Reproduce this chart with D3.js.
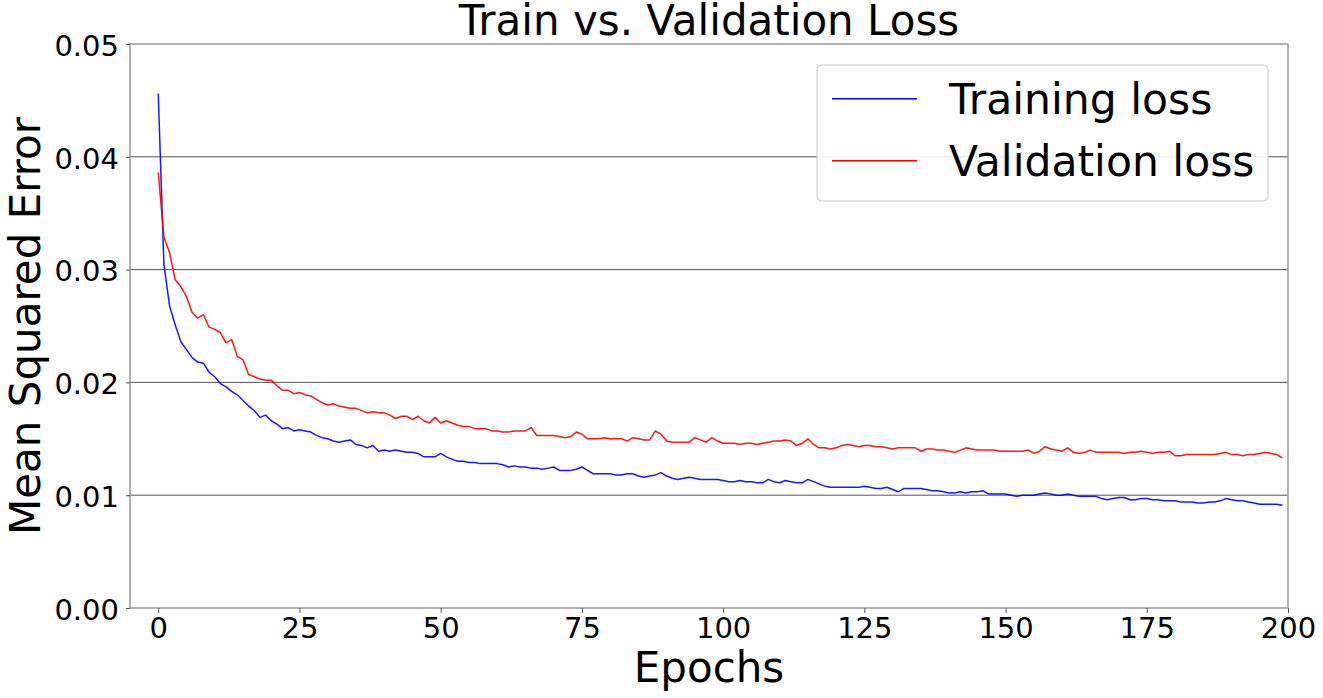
<!DOCTYPE html>
<html>
<head>
<meta charset="utf-8">
<script src="https://cdn.jsdelivr.net/npm/d3@7"></script>
<style>
  html, body { margin: 0; padding: 0; background: #fff; }
  svg { display: block; }
  text { font-family: "DejaVu Sans", sans-serif; fill: #000; }
</style>
</head>
<body>
<svg id="chart" width="1323" height="698"></svg>
<script>
const trainingLoss = [
0.0456,0.0305,0.0268,0.0251,0.0236,0.0229,0.0222,0.0218,0.0217,0.0209,
0.0205,0.0199,0.0196,0.0192,0.0189,0.0184,0.0179,0.0175,0.0169,0.0171,
0.0166,0.0163,0.0159,0.0160,0.0157,0.0158,0.0157,0.0156,0.0153,0.0151,
0.0150,0.0148,0.0147,0.0148,0.0149,0.0145,0.0144,0.0142,0.0144,0.0139,
0.0140,0.0139,0.0140,0.0139,0.0138,0.0138,0.0137,0.0134,0.0134,0.0134,
0.0137,0.0134,0.0132,0.0130,0.0130,0.0129,0.0129,0.0128,0.0128,0.0128,
0.0128,0.0127,0.0125,0.0126,0.0125,0.0125,0.0124,0.0124,0.0123,0.0124,
0.0125,0.0122,0.0122,0.0122,0.0123,0.0125,0.0122,0.0119,0.0119,0.0119,
0.0119,0.0118,0.0118,0.0119,0.0119,0.0117,0.0116,0.0117,0.0118,0.0120,
0.0117,0.0115,0.0114,0.0115,0.0116,0.0115,0.0114,0.0114,0.0114,0.0114,
0.0113,0.0112,0.0112,0.0113,0.0112,0.0112,0.0111,0.0111,0.0114,0.0112,
0.0111,0.0113,0.0112,0.0111,0.0111,0.0114,0.0112,0.0110,0.0108,0.0107,
0.0107,0.0107,0.0107,0.0107,0.0107,0.0108,0.0107,0.0106,0.0106,0.0107,
0.0105,0.0103,0.0106,0.0106,0.0106,0.0106,0.0105,0.0104,0.0104,0.0103,
0.0102,0.0102,0.0103,0.0102,0.0103,0.0103,0.0104,0.0101,0.0101,0.0101,
0.0101,0.0100,0.0099,0.0100,0.0100,0.0100,0.0101,0.0102,0.0101,0.0100,
0.0100,0.0101,0.0100,0.0099,0.0099,0.0099,0.0099,0.0097,0.0096,0.0097,
0.0098,0.0098,0.0096,0.0096,0.0097,0.0097,0.0096,0.0096,0.0095,0.0095,
0.0095,0.0094,0.0094,0.0094,0.0093,0.0093,0.0094,0.0094,0.0095,0.0097,
0.0096,0.0095,0.0095,0.0094,0.0093,0.0092,0.0092,0.0092,0.0092,0.0091
];
const validationLoss = [
0.0386,0.0329,0.0315,0.0291,0.0285,0.0276,0.0262,0.0257,0.0260,0.0249,
0.0247,0.0244,0.0235,0.0238,0.0223,0.0220,0.0207,0.0205,0.0203,0.0202,
0.0202,0.0197,0.0193,0.0193,0.0190,0.0191,0.0189,0.0188,0.0185,0.0182,
0.0180,0.0181,0.0179,0.0178,0.0177,0.0177,0.0175,0.0173,0.0174,0.0173,
0.0173,0.0171,0.0168,0.0170,0.0170,0.0167,0.0170,0.0166,0.0164,0.0169,
0.0164,0.0166,0.0164,0.0162,0.0161,0.0161,0.0159,0.0159,0.0159,0.0157,
0.0157,0.0156,0.0156,0.0157,0.0157,0.0157,0.0160,0.0153,0.0153,0.0153,
0.0153,0.0152,0.0151,0.0152,0.0156,0.0154,0.0150,0.0150,0.0150,0.0151,
0.0150,0.0150,0.0150,0.0148,0.0151,0.0150,0.0149,0.0149,0.0157,0.0154,
0.0148,0.0147,0.0147,0.0147,0.0147,0.0151,0.0149,0.0147,0.0151,0.0148,
0.0146,0.0146,0.0146,0.0145,0.0146,0.0146,0.0145,0.0146,0.0147,0.0148,
0.0148,0.0149,0.0148,0.0144,0.0146,0.0150,0.0145,0.0142,0.0142,0.0141,
0.0142,0.0144,0.0145,0.0144,0.0143,0.0144,0.0144,0.0143,0.0143,0.0142,
0.0141,0.0142,0.0142,0.0142,0.0142,0.0139,0.0141,0.0141,0.0140,0.0140,
0.0139,0.0138,0.0140,0.0142,0.0141,0.0140,0.0140,0.0140,0.0140,0.0139,
0.0139,0.0139,0.0139,0.0139,0.0140,0.0137,0.0139,0.0143,0.0141,0.0140,
0.0139,0.0142,0.0138,0.0137,0.0138,0.0140,0.0138,0.0138,0.0138,0.0138,
0.0138,0.0137,0.0138,0.0138,0.0139,0.0138,0.0137,0.0138,0.0138,0.0139,
0.0135,0.0135,0.0136,0.0136,0.0136,0.0136,0.0136,0.0136,0.0137,0.0138,
0.0136,0.0136,0.0135,0.0136,0.0136,0.0137,0.0138,0.0137,0.0136,0.0133
];
const epochs = d3.range(trainingLoss.length);
const xTicks = [0, 25, 50, 75, 100, 125, 150, 175, 200];
const yTicks = [0.00, 0.01, 0.02, 0.03, 0.04, 0.05];
const gridValues = [0.01, 0.02, 0.03, 0.04];
const seriesNames = ["Training loss", "Validation loss"];
const seriesColors = ["#0000ff", "#ff0000"];
const titleText = "Train vs. Validation Loss";
const xLabel = "Epochs";
const yLabel = "Mean Squared Error";

const svg = d3.select("#chart");
const L = 130, R = 1288, T = 44, B = 608;
const x = d3.scaleLinear().domain([-5, 200]).range([L, R]);
const y = d3.scaleLinear().domain([0, 0.05]).range([B, T]);

// gridlines
svg.append("g").selectAll("line").data(gridValues).join("line")
  .attr("x1", L).attr("x2", R)
  .attr("y1", d => y(d)).attr("y2", d => y(d))
  .attr("stroke", "#555").attr("stroke-width", 1);

// lines
const lineGen = d3.line().x((d, i) => x(epochs[i])).y(d => y(d));
[trainingLoss, validationLoss].forEach((s, k) => {
  svg.append("path").datum(s)
    .attr("d", lineGen)
    .attr("fill", "none")
    .attr("stroke", seriesColors[k])
    .attr("stroke-width", 1.5)
    .attr("stroke-opacity", 0.9)
    .attr("stroke-linejoin", "round");
});

// frame
svg.append("rect").attr("x", L).attr("y", T).attr("width", R - L).attr("height", B - T)
  .attr("fill", "none").attr("stroke", "#999").attr("stroke-width", 1.5);

// axes
const xAxis = svg.append("g").attr("transform", `translate(0,${B})`)
  .call(d3.axisBottom(x).tickValues(xTicks).tickSize(5).tickPadding(9).tickFormat(d3.format("d")));
const yAxis = svg.append("g").attr("transform", `translate(${L},0)`)
  .call(d3.axisLeft(y).tickValues(yTicks).tickSize(4).tickPadding(7).tickFormat(d3.format(".2f")));
[xAxis, yAxis].forEach(a => {
  a.select(".domain").remove();
  a.selectAll(".tick line").attr("stroke", "#555").attr("stroke-width", 1);
  a.selectAll(".tick text").attr("font-size", 29).attr("font-family", "DejaVu Sans").attr("fill", "#000");
});
xAxis.selectAll(".tick text").attr("dy", null).attr("y", 30);
yAxis.selectAll(".tick text").attr("dy", "0.39em");

// title and labels
svg.append("text").attr("x", (L + R) / 2).attr("y", 35).attr("text-anchor", "middle")
  .attr("font-size", 42).text(titleText);
svg.append("text").attr("x", (L + R) / 2).attr("y", 682).attr("text-anchor", "middle")
  .attr("font-size", 42).text(xLabel);
svg.append("text").attr("transform", `translate(40,${(T + B) / 2}) rotate(-90)`)
  .attr("text-anchor", "middle").attr("font-size", 42).text(yLabel);

// legend
const lg = svg.append("g");
lg.append("rect").attr("x", 817).attr("y", 65).attr("width", 451).attr("height", 136)
  .attr("rx", 5).attr("ry", 5).attr("fill", "#fff").attr("fill-opacity", 0.9)
  .attr("stroke", "#d0d0d0").attr("stroke-width", 1.2);
seriesNames.forEach((name, k) => {
  const yy = 98.7 + k * 62;
  lg.append("line").attr("x1", 832).attr("x2", 917).attr("y1", yy).attr("y2", yy)
    .attr("stroke", seriesColors[k]).attr("stroke-width", 1.5);
  lg.append("text").attr("x", 949).attr("y", yy + 15).attr("font-size", 42.5).text(name);
});
</script>
</body>
</html>
